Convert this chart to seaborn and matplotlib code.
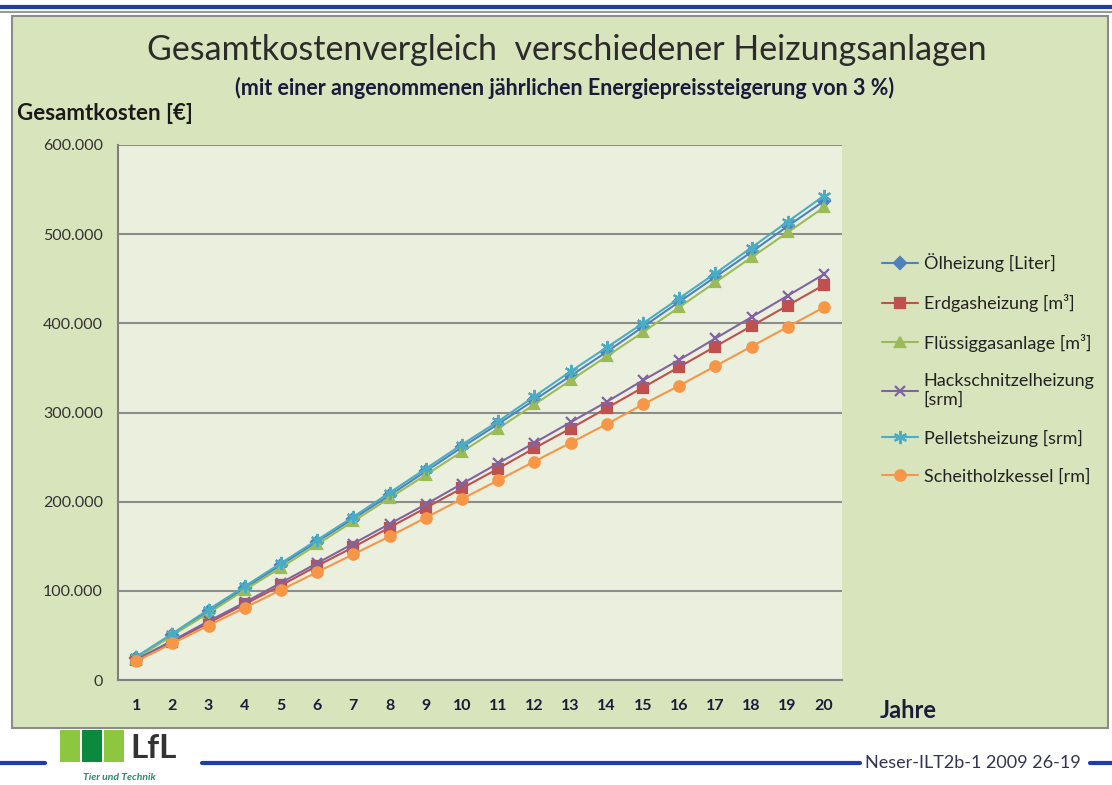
import pandas as pd
import matplotlib.pyplot as plt
import matplotlib.patches as mpatches
from matplotlib.ticker import FuncFormatter
import seaborn as sns

# values, in thousand EUR
jahre = list(range(1, 21))
oel = [25, 51, 77, 103, 129, 155, 181, 207, 234, 261, 287, 314, 341, 368, 396, 424, 452, 480, 509, 537]
erdgas = [22, 43, 64, 85, 106, 128, 149, 171, 193, 215, 237, 260, 282, 305, 328, 351, 374, 397, 420, 443]
fluessig = [24, 50, 75, 101, 126, 152, 178, 204, 230, 256, 282, 309, 336, 363, 390, 418, 446, 474, 502, 530]
hack = [23, 44, 66, 87, 109, 131, 153, 175, 197, 220, 243, 266, 289, 312, 336, 359, 383, 407, 431, 455]
pellet = [26, 52, 79, 105, 131, 157, 183, 210, 237, 264, 290, 318, 346, 373, 400, 428, 456, 485, 514, 543]
scheit = [21, 41, 61, 81, 101, 121, 141, 161, 182, 203, 224, 245, 266, 287, 309, 330, 352, 374, 396, 418]

labels = ['Ölheizung [Liter]', 'Erdgasheizung [m³]', 'Flüssiggasanlage [m³]',
          'Hackschnitzelheizung\n[srm]', 'Pelletsheizung [srm]', 'Scheitholzkessel [rm]']
series = [oel, erdgas, fluessig, hack, pellet, scheit]
colors = ['#4F81BD', '#C0504D', '#9BBB59', '#8064A2', '#4BACC6', '#F79646']
markers = ['D', 's', '^', 'x', (6, 2, 0), 'o']
msizes = [6.5, 7.5, 7.5, 7.5, 9.5, 7.5]

sns.set_style('white')
plt.rcParams['font.family'] = ['Lato', 'DejaVu Sans']

fig = plt.figure(figsize=(11.12, 7.85), dpi=100)
fig.patch.set_facecolor('white')

# green chart box and header lines
fig.add_artist(mpatches.Rectangle((12 / 1112, 1 - 728 / 785), 1096 / 1112, 712 / 785,
                                  transform=fig.transFigure, facecolor='#D8E4BC',
                                  edgecolor='#8c8c8c', lw=1.5, zorder=0))
fig.add_artist(plt.Line2D([0, 1], [1 - 7 / 785] * 2, transform=fig.transFigure, color='#1F3F9F', lw=3))
fig.add_artist(plt.Line2D([0, 1], [1 - 12 / 785] * 2, transform=fig.transFigure, color='#999999', lw=1.5))

ax = fig.add_axes([118 / 1112, 1 - 680 / 785, (842 - 118) / 1112, (680 - 145) / 785])
ax.set_facecolor('#EBF0DE')

for lab, vals, c, m, ms in zip(labels, series, colors, markers, msizes):
    d = pd.DataFrame({'Jahr': jahre, 'Kosten': [v * 1000 for v in vals]})
    sns.lineplot(data=d, x='Jahr', y='Kosten', color=c, marker=m, markersize=ms,
                 markeredgecolor=c, markeredgewidth=1.6, lw=1.5, label=lab, ax=ax)

ax.set_xlim(0.5, 20.5)
ax.set_ylim(0, 600000)
ax.set_yticks(range(0, 600001, 100000))
ax.yaxis.set_major_formatter(FuncFormatter(lambda v, p: '0' if v == 0 else f'{int(v):,}'.replace(',', '.')))
ax.set_xticks(jahre)
ax.set_xticks([x + 0.5 for x in range(0, 21)], minor=True)
ax.tick_params(axis='x', which='major', length=0, pad=14, labelsize=11.5, colors='#1a1a3a')
ax.tick_params(axis='x', which='minor', length=5, color='#808080', direction='out')
ax.tick_params(axis='y', length=5, color='#808080', direction='out', labelsize=11.5, pad=6)
ax.tick_params(axis='y', labelcolor='#333333')
for t in ax.get_xticklabels():
    t.set_fontweight('bold')
ax.grid(axis='y', color='#8c8c8c', lw=1.5)
ax.set_axisbelow(True)
for s in ['top', 'right']:
    ax.spines[s].set_visible(False)
for s in ['left', 'bottom']:
    ax.spines[s].set_color('#808080')
    ax.spines[s].set_linewidth(1.5)
ax.set_xlabel('')
ax.set_ylabel('')

handles, labs = ax.get_legend_handles_labels()
ax.legend_.remove()
fig.legend(handles, labs, loc='upper left', bbox_to_anchor=(866 / 1112, 1 - 237 / 785),
           frameon=False, fontsize=13, labelspacing=1.2, handlelength=2.0,
           handletextpad=0.3, labelcolor='#222222')

fig.text(567 / 1112, 1 - 50 / 785, 'Gesamtkostenvergleich  verschiedener Heizungsanlagen',
         ha='center', va='center', fontsize=24.5, color='#2b2b2b')
fig.text(565 / 1112, 1 - 88 / 785, '(mit einer angenommenen jährlichen Energiepreissteigerung von 3 %)',
         ha='center', va='center', fontsize=15.5, fontweight='bold', color='#1a1a3a')
fig.text(17 / 1112, 1 - 113 / 785, 'Gesamtkosten [€]', ha='left', va='center',
         fontsize=16, fontweight='bold', color='#1a1a1a')
fig.text(880 / 1112, 1 - 710 / 785, 'Jahre', ha='left', va='center',
         fontsize=17, fontweight='bold', color='#1a1a3a')

# footer
blue = '#1F3F9F'
fig.add_artist(plt.Line2D([0, 45 / 1112], [1 - 763 / 785] * 2, transform=fig.transFigure, color=blue, lw=3))
fig.add_artist(plt.Line2D([202 / 1112, 860 / 1112], [1 - 763 / 785] * 2, transform=fig.transFigure, color=blue, lw=3))
fig.add_artist(plt.Line2D([1090 / 1112, 1], [1 - 763 / 785] * 2, transform=fig.transFigure, color=blue, lw=3))
for x0, col in [(60, '#8DC63F'), (82, '#0B8A3E'), (104, '#8DC63F')]:
    fig.add_artist(mpatches.Rectangle((x0 / 1112, 1 - 762 / 785), 20 / 1112, 32 / 785,
                                      transform=fig.transFigure, facecolor=col, edgecolor='none'))
fig.text(130 / 1112, 1 - 748 / 785, 'LfL', ha='left', va='center', fontsize=24,
         fontweight='bold', color='#333333')
fig.text(83 / 1112, 1 - 777 / 785, 'Tier und Technik', ha='left', va='center', fontsize=7.5,
         fontstyle='italic', fontweight='bold', color='#2a8a6a')
fig.text(973 / 1112, 1 - 763 / 785, 'Neser-ILT2b-1 2009 26-19', ha='center', va='center',
         fontsize=13, color='#333355')

fig.savefig('out.png', dpi=100, facecolor=fig.get_facecolor())
